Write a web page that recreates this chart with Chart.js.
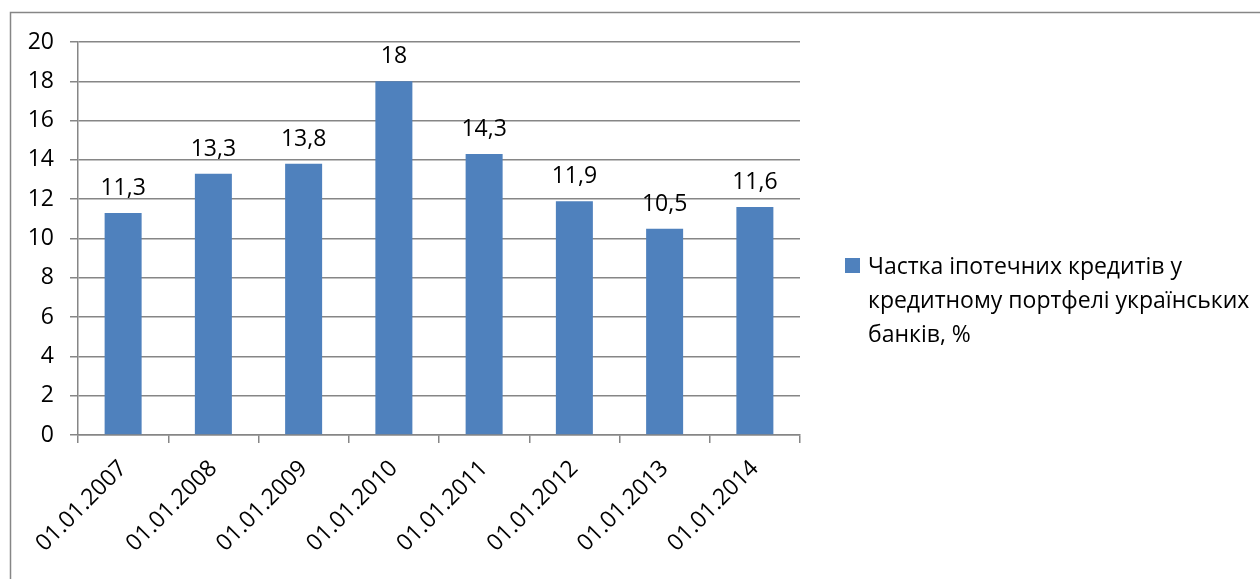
<!DOCTYPE html>
<html lang="uk">
<head>
<meta charset="utf-8">
<script src="https://cdn.jsdelivr.net/npm/chart.js@4"></script>
<style>
  html, body { margin: 0; padding: 0; background: #fff; }
  #wrap { width: 1260px; height: 579px; position: relative; }
</style>
</head>
<body>
<div id="wrap"><canvas id="mortgageChart"></canvas></div>
<script>
// Дані
const dates = ['01.01.2007', '01.01.2008', '01.01.2009', '01.01.2010', '01.01.2011', '01.01.2012', '01.01.2013', '01.01.2014'];
const shares = [11.3, 13.3, 13.8, 18, 14.3, 11.9, 10.5, 11.6];
const seriesLines = ['Частка іпотечних кредитів у', 'кредитному портфелі українських', 'банків, %'];
const yTicks = [0, 2, 4, 6, 8, 10, 12, 14, 16, 18, 20];

const barColor = '#4F81BD';
const lineColor = '#868686';
const fontFamily = '"Open Sans", "Noto Sans", sans-serif';
const fontSize = 23;

// рамка навколо діаграми
const frame = {
  id: 'frame',
  beforeDraw(chart) {
    const c = chart.ctx;
    c.save();
    c.fillStyle = '#fff';
    c.fillRect(0, 0, chart.width, chart.height);
    c.strokeStyle = lineColor;
    c.lineWidth = 1.5;
    c.strokeRect(10.5, 12.5, chart.width + 20, chart.height + 20);
    c.restore();
  }
};

// підписи значень над стовпцями
const valueLabels = {
  id: 'valueLabels',
  afterDatasetsDraw(chart) {
    const c = chart.ctx;
    const meta = chart.getDatasetMeta(0);
    c.save();
    c.font = `${fontSize}px ${fontFamily}`;
    c.fillStyle = '#000';
    c.textAlign = 'center';
    c.textBaseline = 'alphabetic';
    meta.data.forEach((bar, i) => {
      const txt = String(shares[i]).replace('.', ',');
      c.fillText(txt, bar.x, bar.y - 18);
    });
    c.restore();
  }
};

// легенда з переносом рядків
const sideLegend = {
  id: 'sideLegend',
  afterDraw(chart) {
    const c = chart.ctx;
    c.save();
    c.fillStyle = barColor;
    c.fillRect(845, 258, 15, 15);
    c.fillStyle = '#000';
    c.font = `${fontSize}px ${fontFamily}`;
    c.textAlign = 'left';
    c.textBaseline = 'alphabetic';
    seriesLines.forEach((line, i) => {
      c.fillText(line, 868, 274 + i * 34);
    });
    c.restore();
  }
};

const ctx = document.getElementById('mortgageChart').getContext('2d');
const chart = new Chart(ctx, {
  type: 'bar',
  data: {
    labels: dates,
    datasets: [{
      label: seriesLines.join(' '),
      data: shares,
      backgroundColor: barColor,
      borderWidth: 0,
      barPercentage: 0.41,
      categoryPercentage: 1
    }]
  },
  options: {
    responsive: true,
    maintainAspectRatio: false,
    animation: false,
    layout: {
      padding: { left: 0, top: 42, right: 460, bottom: 0 }
    },
    plugins: {
      legend: { display: false },
      tooltip: { enabled: false }
    },
    scales: {
      x: {
        offset: true,
        grid: {
          offset: true,
          drawOnChartArea: false,
          color: lineColor,
          lineWidth: 1.5,
          tickLength: 8
        },
        border: { color: lineColor, width: 1.5 },
        ticks: {
          color: '#000',
          font: { family: fontFamily, size: fontSize },
          minRotation: 45,
          maxRotation: 45,
          padding: 12
        },
        afterFit(scale) { scale.height = 144; }
      },
      y: {
        min: 0,
        max: 20,
        afterBuildTicks(scale) {
          scale.ticks = yTicks.map(v => ({ value: v }));
        },
        grid: {
          color: lineColor,
          lineWidth: 1.5,
          tickLength: 8
        },
        border: { color: lineColor, width: 1.5 },
        ticks: {
          color: '#000',
          font: { family: fontFamily, size: fontSize },
          padding: 16
        },
        afterFit(scale) { scale.width = 78; }
      }
    }
  },
  plugins: [frame, valueLabels, sideLegend]
});
</script>
</body>
</html>
